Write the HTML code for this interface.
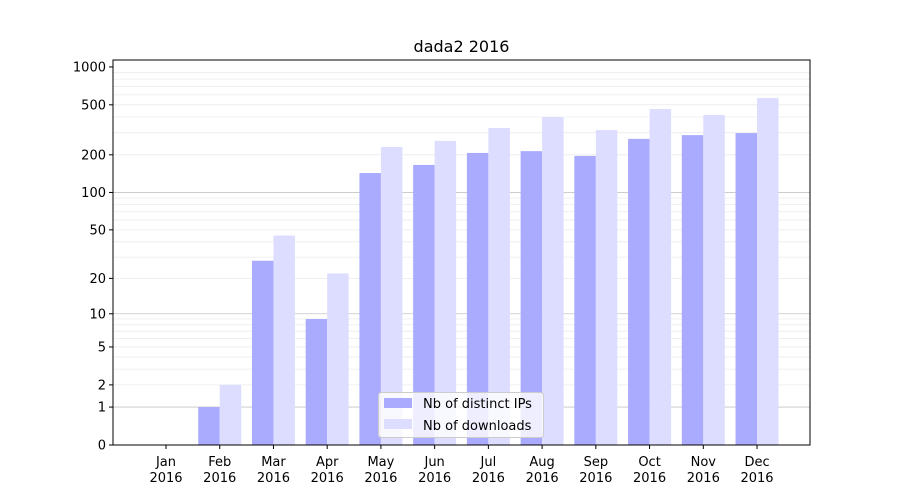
<!DOCTYPE html>
<html><head><meta charset="utf-8"><style>
body{margin:0;background:#fff;font-family:"DejaVu Sans","Liberation Sans",sans-serif;}
</style></head><body>
<svg id="chart" width="900" height="500" xmlns="http://www.w3.org/2000/svg">
<rect width="900" height="500" fill="#fff"/>
<text x="461.5" y="52" text-anchor="middle" font-size="16" fill="#000">dada2 2016</text>
<g id="grid"></g>
<g id="bars"></g>
<rect x="113" y="60" width="697" height="385" fill="none" stroke="#000" stroke-width="1"/>
<g id="axes" font-size="13" fill="#000"></g>
<g>
<rect x="378.5" y="392.5" width="165" height="45" rx="3" fill="#fff" fill-opacity="0.8" stroke="#ccc"/>
<rect x="384" y="398" width="28" height="10" fill="#aaaaff"/>
<text x="423" y="408" font-size="13">Nb of distinct IPs</text>
<rect x="384" y="419" width="28" height="10" fill="#ddddff"/>
<text x="423" y="430" font-size="13">Nb of downloads</text>
</g>
</svg>
<script>
const months=["Jan","Feb","Mar","Apr","May","Jun","Jul","Aug","Sep","Oct","Nov","Dec"];
const ips=[0,1,28,9,143,166,207,214,196,268,287,298];
const downloads=[0,2,45,22,231,258,327,400,315,463,415,567];
const yTicks=[0,1,2,5,10,20,50,100,200,500,1000];
const NS="http://www.w3.org/2000/svg";
function y(v){return 445-126*Math.log10(v+1);}
function xc(i){return 166+i*53.73;}
const bw=21.5;
const grid=document.getElementById('grid'),bars=document.getElementById('bars'),axes=document.getElementById('axes');
function mk(tag,attrs,parent){const e=document.createElementNS(NS,tag);for(const k in attrs)e.setAttribute(k,attrs[k]);parent.appendChild(e);return e;}
// minor grid
for(const d of [1,10,100]){for(let m=2;m<=9;m++){const yy=y(m*d);
const l=mk('line',{x1:113,x2:810,y1:yy,y2:yy,stroke:'#ebebeb','stroke-width':0.8},grid);

}}
for(const v of [1,10,100]){const yy=y(v);
const l=mk('line',{x1:113,x2:810,y1:yy,y2:yy,stroke:'#c4c4c4','stroke-width':0.8},grid);

}
months.forEach((m,i)=>{
 const c=xc(i);
 if(ips[i]>0){const r=mk('rect',{x:c-bw,y:y(ips[i]),width:bw,height:445-y(ips[i]),fill:'#aaaaff'},bars);
 
 }
 if(downloads[i]>0){const r=mk('rect',{x:c,y:y(downloads[i]),width:bw,height:445-y(downloads[i]),fill:'#ddddff'},bars);
 
 }
 mk('line',{x1:c,x2:c,y1:445,y2:449,stroke:'#000'},axes);
 const t=mk('text',{x:c,y:466,'text-anchor':'middle'},axes);t.textContent=m;
 
 
 const t2=mk('text',{x:c,y:482,'text-anchor':'middle'},axes);t2.textContent='2016';
 
 
});
yTicks.forEach(v=>{const yy=y(v);
 mk('line',{x1:109,x2:113,y1:yy,y2:yy,stroke:'#000'},axes);
 const t=mk('text',{x:106,y:yy+4.5,'text-anchor':'end'},axes);t.textContent=v;
 
 
});
</script>
</body></html>
